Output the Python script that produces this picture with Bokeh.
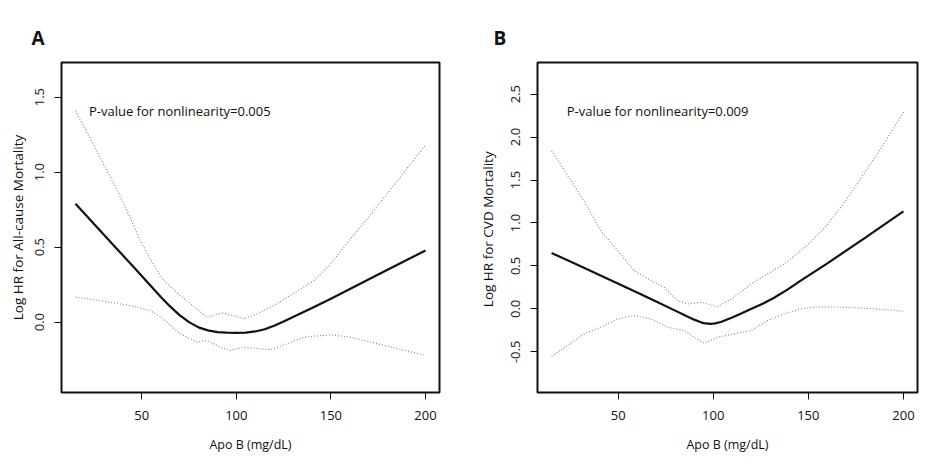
from bokeh.plotting import figure
from bokeh.layouts import row
from bokeh.models import Label, FixedTicker, NumeralTickFormatter, Range1d
from bokeh.embed import file_html
from bokeh.resources import INLINE

# ---------------- Panel A: All-cause mortality ----------------
a_fit_x = [15, 30, 45, 60, 65, 70, 75, 80, 85, 90, 95, 100, 105, 110, 115, 120, 125, 130, 140, 150, 175, 200]
a_fit_y = [0.789, 0.583, 0.377, 0.17, 0.105, 0.047, 0.0, -0.035, -0.055, -0.066, -0.07, -0.071, -0.07,
           -0.062, -0.047, -0.024, 0.004, 0.034, 0.094, 0.156, 0.317, 0.478]
a_up_x = [15, 25, 35, 42, 49, 55, 61.5, 70, 79, 84.5, 89, 93, 98, 104, 109, 114.5, 121, 127, 134, 141,
          150, 160, 170, 180, 190, 200]
a_up_y = [1.41, 1.17, 0.93, 0.75, 0.55, 0.41, 0.28, 0.18, 0.09, 0.033, 0.05, 0.06, 0.045, 0.022, 0.045,
          0.078, 0.12, 0.167, 0.22, 0.278, 0.39, 0.55, 0.70, 0.86, 1.02, 1.18]
a_lo_x = [15, 30, 43.8, 54.4, 61.5, 70.3, 79.2, 84.5, 91.5, 96.8, 103.9, 112.7, 118, 126.9, 135.7, 149.8,
          160, 180, 200]
a_lo_y = [0.167, 0.14, 0.111, 0.078, 0.022, -0.078, -0.133, -0.122, -0.167, -0.189, -0.167, -0.178, -0.184,
          -0.144, -0.1, -0.084, -0.1, -0.16, -0.222]
a_yticks = [0.0, 0.5, 1.0, 1.5]

# ---------------- Panel B: CVD mortality ----------------
b_fit_x = [15, 30, 45, 60, 70, 80, 85, 90, 93.5, 95, 98.5, 101, 104, 110, 115, 119.8, 126, 132, 139, 146,
           160, 180, 200]
b_fit_y = [0.651, 0.498, 0.345, 0.19, 0.087, -0.02, -0.075, -0.125, -0.155, -0.166, -0.174, -0.168, -0.152,
           -0.1, -0.05, 0.0, 0.06, 0.13, 0.225, 0.33, 0.53, 0.83, 1.136]
b_up_x = [15, 25, 33, 40.9, 49.7, 58.4, 67.2, 74.2, 81.2, 86.5, 93.5, 102.3, 111, 119.8, 128.5, 137.3,
          146, 150, 160, 170, 180, 190, 200]
b_up_y = [1.84, 1.50, 1.22, 0.91, 0.678, 0.445, 0.33, 0.25, 0.097, 0.058, 0.077, 0.027, 0.135, 0.29, 0.407,
          0.523, 0.678, 0.75, 0.98, 1.27, 1.60, 1.93, 2.29]
b_lo_x = [15, 25, 33, 40.9, 49.7, 58.4, 67.2, 76, 84.7, 90, 95.2, 102.3, 111, 119.8, 128.5, 137.3, 146,
          155, 170, 185, 200]
b_lo_y = [-0.554, -0.40, -0.28, -0.213, -0.116, -0.078, -0.116, -0.213, -0.252, -0.33, -0.4, -0.33, -0.29,
          -0.252, -0.136, -0.058, 0.0, 0.025, 0.02, 0.0, -0.027]
b_yticks = [-0.5, 0.0, 0.5, 1.0, 1.5, 2.0, 2.5]

x_ticks = [50, 100, 150, 200]

FONT = "Open Sans"


def make_panel(letter, fx, fy, ux, uy, lx, ly, yticks, yrange, ylabel, note, note_xy,
               width, bl, br, title_offset, ylab_standoff):
    p = figure(width=width, height=465, output_backend="svg", toolbar_location=None,
               x_range=Range1d(7.6, 207.4), y_range=Range1d(*yrange),
               min_border_left=bl, min_border_right=br, min_border_top=62, min_border_bottom=73)
    p.background_fill_color = "white"
    p.border_fill_color = "white"
    p.outline_line_color = "#111111"
    p.outline_line_width = 2
    p.xgrid.visible = False
    p.ygrid.visible = False

    p.title.text = letter
    p.title.text_font = FONT
    p.title.text_font_size = "19px"
    p.title.text_font_style = "bold"
    p.title.text_color = "#111111"
    p.title.align = "left"
    p.title.offset = title_offset
    p.title.standoff = 24

    for ax in (p.xaxis[0], p.yaxis[0]):
        ax.axis_line_color = None
        ax.major_tick_in = 0
        ax.major_tick_out = 7
        ax.major_tick_line_color = "#111111"
        ax.major_tick_line_width = 1
        ax.minor_tick_line_color = None
        ax.major_label_text_font = FONT
        ax.major_label_text_font_size = "13px"
        ax.major_label_text_color = "#111111"
        ax.axis_label_text_font = FONT
        ax.axis_label_text_font_style = "normal"
        ax.axis_label_text_color = "#111111"

    p.xaxis.ticker = FixedTicker(ticks=x_ticks)
    p.xaxis.formatter = NumeralTickFormatter(format="0")
    p.xaxis.axis_label = "Apo B (mg/dL)"
    p.xaxis.axis_label_text_font_size = "12.5px"
    p.xaxis.major_label_standoff = 11
    p.xaxis.axis_label_standoff = 13

    p.yaxis.ticker = FixedTicker(ticks=yticks)
    p.yaxis.formatter = NumeralTickFormatter(format="0.0")
    p.yaxis.axis_label = ylabel
    p.yaxis.axis_label_text_font_size = "13.5px"
    p.yaxis.major_label_orientation = "vertical"
    p.yaxis.major_label_standoff = 10
    p.yaxis.axis_label_standoff = ylab_standoff

    p.line(ux, uy, line_color="#8a8a8a", line_width=1.2, line_dash="1 2")
    p.line(lx, ly, line_color="#8a8a8a", line_width=1.2, line_dash="1 2")
    p.line(fx, fy, line_color="#111111", line_width=2.2)

    p.add_layout(Label(x=note_xy[0], y=note_xy[1], text=note, text_font=FONT,
                       text_font_size="13px", text_color="#111111", text_baseline="middle"))
    return p


pA = make_panel("A", a_fit_x, a_fit_y, a_up_x, a_up_y, a_lo_x, a_lo_y, a_yticks, (-0.469, 1.731),
                "Log HR for All-cause Mortality", "P-value for nonlinearity=0.005", (22.1, 1.411),
                474, 61, 35, -30, 6)
pB = make_panel("B", b_fit_x, b_fit_y, b_up_x, b_up_y, b_lo_x, b_lo_y, b_yticks, (-0.973, 2.868),
                "Log HR for CVD  Mortality", "P-value for nonlinearity=0.009", (23.0, 2.306),
                459, 63, 16, -44, 12)

layout = row(pA, pB)
open("out.html", "w").write(file_html(layout, INLINE))
